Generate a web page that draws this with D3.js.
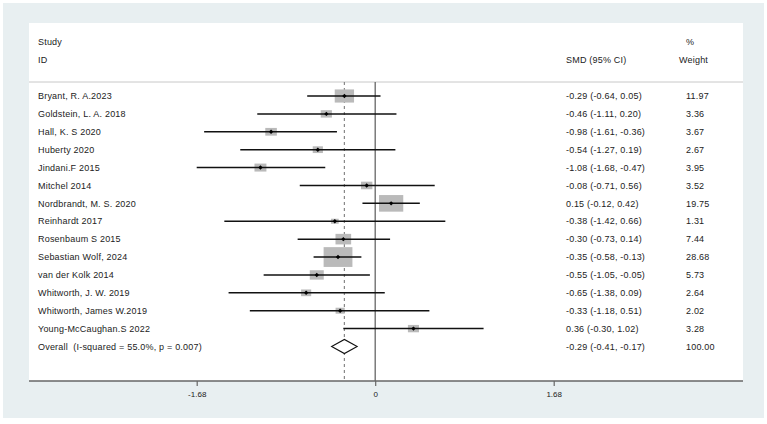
<!DOCTYPE html>
<html>
<head>
<meta charset="utf-8">
<script src="https://cdn.jsdelivr.net/npm/d3@7"></script>
<style>
  body { margin: 0; background: #fff; }
  text { font-family: "Liberation Sans", Arial, sans-serif; fill: #222; }
</style>
</head>
<body>
<svg id="forest"></svg>
<script>
// study data
var studies = ["Bryant, R. A.2023", "Goldstein, L. A. 2018", "Hall, K. S 2020", "Huberty 2020",
  "Jindani.F 2015", "Mitchel 2014", "Nordbrandt, M. S. 2020", "Reinhardt 2017", "Rosenbaum S 2015",
  "Sebastian Wolf, 2024", "van der Kolk 2014", "Whitworth, J. W. 2019", "Whitworth, James W.2019",
  "Young-McCaughan.S 2022"]
var smd = [-0.29, -0.46, -0.98, -0.54, -1.08, -0.08, 0.15, -0.38, -0.30, -0.35, -0.55, -0.65, -0.33, 0.36]
var lower = [-0.64, -1.11, -1.61, -1.27, -1.68, -0.71, -0.12, -1.42, -0.73, -0.58, -1.05, -1.38, -1.18, -0.30]
var upper = [0.05, 0.20, -0.36, 0.19, -0.47, 0.56, 0.42, 0.66, 0.14, -0.13, -0.05, 0.09, 0.51, 1.02]
var weights = [11.97, 3.36, 3.67, 2.67, 3.95, 3.52, 19.75, 1.31, 7.44, 28.68, 5.73, 2.64, 2.02, 3.28]
var overallLabel = "Overall  (I-squared = 55.0%, p = 0.007)"
var overall = [-0.29, -0.41, -0.17, 100.00]
var tickValues = [-1.68, 0, 1.68]

var width = 767, height = 424
var panel = { left: 29, top: 23, right: 743, bottom: 381 }
var headLine = 82

let svg = d3.select("#forest")
  .attr("width", width)
  .attr("height", height)

// backgrounds
svg.append("rect")
  .attr("x", 3).attr("y", 3)
  .attr("width", 761).attr("height", 415)
  .attr("fill", "#e8eff1")
svg.append("rect")
  .attr("x", panel.left).attr("y", panel.top)
  .attr("width", panel.right - panel.left).attr("height", panel.bottom - panel.top)
  .attr("fill", "#fff")

// plain hyphen for negatives, like the original
let locale = d3.formatLocale({ decimal: ".", thousands: ",", grouping: [3], currency: ["", ""], minus: "-" })
let fmt = locale.format(".2f")
let rows = studies.map((s, i) => ({ label: s, es: smd[i], lo: lower[i], hi: upper[i], w: weights[i] }))

let xscale = d3.scaleLinear()
  .domain([-1.68, 1.68])
  .range([196.7, 553.7])

let yscale = d3.scalePoint()
  .domain(d3.range(rows.length + 1))
  .range([96, 346.5])

let wscale = d3.scaleSqrt().domain([0, 28.68]).range([2, 28.8])
let hscale = d3.scaleSqrt().domain([0, 28.68]).range([1, 19.8])

// header
let head = svg.append("g").style("font-size", "9px").style("letter-spacing", "0.2px")
head.append("text").attr("x", 38).attr("y", 42).attr("dy", "0.35em").text("Study")
head.append("text").attr("x", 38).attr("y", 60).attr("dy", "0.35em").text("ID")
head.append("text").attr("x", 566).attr("y", 60).attr("dy", "0.35em").text("SMD (95% CI)")
head.append("text").attr("x", 686).attr("y", 42).attr("dy", "0.35em").text("%")
head.append("text").attr("x", 679).attr("y", 60).attr("dy", "0.35em").text("Weight")

svg.append("line")
  .attr("x1", panel.left).attr("x2", panel.right)
  .attr("y1", headLine).attr("y2", headLine)
  .attr("stroke", "#c8c8c8").attr("stroke-width", 1)

// reference lines
svg.append("line")
  .attr("x1", xscale(0)).attr("x2", xscale(0))
  .attr("y1", headLine).attr("y2", panel.bottom)
  .attr("stroke", "#666").attr("stroke-width", 1.3)
svg.append("line")
  .attr("x1", xscale(overall[0])).attr("x2", xscale(overall[0]))
  .attr("y1", headLine).attr("y2", panel.bottom)
  .attr("stroke", "#888").attr("stroke-width", 1.2)
  .attr("stroke-dasharray", "3,3")

// study rows
let row = svg.append("g").selectAll("g")
  .data(rows)
  .join("g")
  .attr("transform", (d, i) => "translate(0," + yscale(i) + ")")

row.append("rect")
  .attr("x", d => xscale(d.es) - wscale(d.w) / 2)
  .attr("y", d => -hscale(d.w) / 2)
  .attr("width", d => wscale(d.w))
  .attr("height", d => hscale(d.w))
  .attr("fill", "#bababa")

row.append("line")
  .attr("x1", d => xscale(d.lo)).attr("x2", d => xscale(d.hi))
  .attr("stroke", "#111").attr("stroke-width", 1.5)

row.append("path")
  .attr("d", d => "M" + (xscale(d.es) - 2.2) + ",0L" + xscale(d.es) + ",-2.2L" + (xscale(d.es) + 2.2) + ",0L" + xscale(d.es) + ",2.2Z")
  .attr("fill", "#000")

row.append("text").attr("x", 38).attr("dy", "0.35em")
  .style("font-size", "9px").style("letter-spacing", "0.2px")
  .text(d => d.label)
row.append("text").attr("x", 566).attr("dy", "0.35em")
  .style("font-size", "9px").style("letter-spacing", "0.2px")
  .text(d => fmt(d.es) + " (" + fmt(d.lo) + ", " + fmt(d.hi) + ")")
row.append("text").attr("x", 686).attr("dy", "0.35em")
  .style("font-size", "9px").style("letter-spacing", "0.2px")
  .text(d => fmt(d.w))

// overall diamond
let oy = yscale(rows.length)
svg.append("path")
  .attr("d", "M" + xscale(overall[1]) + "," + oy + "L" + xscale(overall[0]) + "," + (oy - 7) +
    "L" + xscale(overall[2]) + "," + oy + "L" + xscale(overall[0]) + "," + (oy + 7) + "Z")
  .attr("fill", "#fff").attr("stroke", "#111").attr("stroke-width", 1.1)

let orow = svg.append("g").attr("transform", "translate(0," + oy + ")")
  .style("font-size", "9px").style("letter-spacing", "0.2px")
orow.append("text").attr("x", 38).attr("dy", "0.35em").attr("xml:space", "preserve").text(overallLabel)
orow.append("text").attr("x", 566).attr("dy", "0.35em")
  .text(fmt(overall[0]) + " (" + fmt(overall[1]) + ", " + fmt(overall[2]) + ")")
orow.append("text").attr("x", 686).attr("dy", "0.35em").text(fmt(overall[3]))

// x axis
svg.append("line")
  .attr("x1", panel.left).attr("x2", panel.right)
  .attr("y1", panel.bottom).attr("y2", panel.bottom)
  .attr("stroke", "#666").attr("stroke-width", 1.5)

let x_axis = d3.axisBottom(xscale)
  .tickValues(tickValues)
  .tickSize(5)
  .tickPadding(5)
  .tickFormat(d => d === 0 ? "0" : fmt(d))

let ax = svg.append("g")
  .attr("transform", "translate(0," + panel.bottom + ")")
  .call(x_axis)
ax.select(".domain").remove()
ax.selectAll("line").attr("stroke", "#666").attr("stroke-width", 1.2)
ax.selectAll("text").style("font-family", "'Liberation Sans', Arial, sans-serif")
  .style("font-size", "8px").attr("fill", "#333")
</script>
</body>
</html>
